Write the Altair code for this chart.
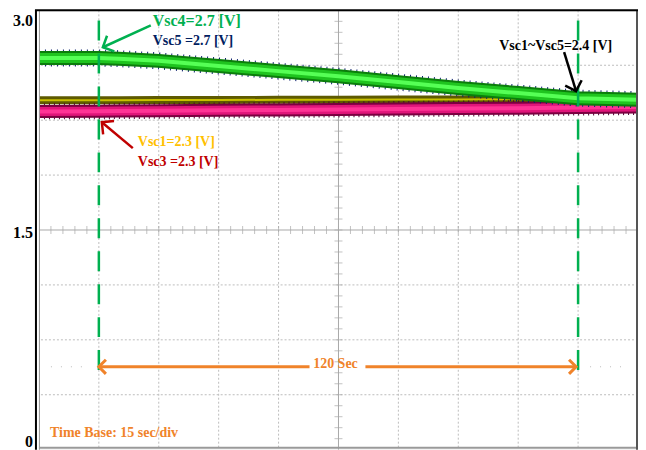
import altair as alt
import pandas as pd

# ---- trace data (time in s, voltage in V) ----
time_s = [0, 15, 20, 30, 45, 60, 75, 90, 105, 120, 135, 150]
vsc4_5 = [2.675, 2.675, 2.67, 2.655, 2.62, 2.585, 2.55, 2.51, 2.47, 2.435, 2.40, 2.39]
vsc1_2 = [2.386, 2.386, 2.386, 2.387, 2.388, 2.389, 2.39, 2.391, 2.392, 2.393, 2.394, 2.395]
vsc3 = [2.31, 2.311, 2.312, 2.314, 2.317, 2.32, 2.323, 2.326, 2.329, 2.332, 2.336, 2.34]

# ---- graticule ----
grid_t = [15, 30, 45, 60, 90, 105, 120, 135]
grid_v = [0.375, 0.75, 1.125, 1.875, 2.25, 2.625]
minor_t = [i * 3 for i in range(1, 50)]
minor_v = [round(i * 0.075, 3) for i in range(1, 40)]

# ---- y tick labels ----
ytick_text = ["3.0", "1.5", "0"]
ytick_v = [2.93, 1.48, 0.055]

# ---- annotations ----
marker_t = [15, 135]
marker_v = [2.93, 0.525]

labels_text = ["Vsc4=2.7 [V]", "Vsc5 =2.7 [V]", "Vsc1~Vsc5=2.4 [V]", "Vsc1=2.3 [V]", "Vsc3 =2.3 [V]", "Time Base: 15 sec/div"]
labels_t = [28.5, 28.5, 115.25, 24.75, 24.75, 2.75]
labels_v = [2.93, 2.79, 2.755, 2.10, 1.964, 0.116]
labels_size = [16, 14, 14, 14, 14, 14]
labels_color = ["#00B050", "#002060", "#000000", "#FFC000", "#C00000", "#F0832A"]

arrow_color = ["#00B050", "#C00000", "#000000"]
arrow_t0 = [28.0, 23.5, 131.5]
arrow_v0 = [2.898, 2.059, 2.714]
arrow_t1 = [16.0, 15.75, 134.5]
arrow_v1 = [2.748, 2.236, 2.448]
arrow_angle = [155, 219, 72]

span_t0 = [15.0, 81.75]
span_t1 = [67.75, 134.5]
span_v = 0.566
span_heads_t = [15.0, 134.5]
span_heads_angle = [180, 0]
span_label = "120 Sec"
span_label_t = 74.25
span_label_v = 0.585

FONT = "Liberation Serif"
xs = alt.Scale(domain=[0, 150], nice=False, zero=False)
ys = alt.Scale(domain=[0, 3], nice=False, zero=False)
X = lambda f: alt.X(f, scale=xs, axis=None)
Y = lambda f: alt.Y(f, scale=ys, axis=None)

traces = pd.DataFrame({"t": time_s, "v45": vsc4_5, "v12": vsc1_2, "v3": vsc3})


def tline(col, color, width, dash=None):
    kw = dict(color=color, strokeWidth=width, strokeCap="butt", clip=True)
    if dash:
        kw["strokeDash"] = dash
    return alt.Chart(traces).mark_line(**kw).encode(x=X("t:Q"), y=Y(f"{col}:Q"))


# grid
gx = alt.Chart(pd.DataFrame({"t": grid_t})).mark_rule(
    color="#bdbdbd", strokeDash=[2, 2], strokeWidth=1).encode(x=X("t:Q"))
gy = alt.Chart(pd.DataFrame({"v": grid_v})).mark_rule(
    color="#bdbdbd", strokeDash=[2, 2], strokeWidth=1).encode(y=Y("v:Q"))
center_df = pd.DataFrame({"t": [75], "v": [1.5]})
cx = alt.Chart(center_df).mark_rule(color="#a8a8a8", strokeWidth=1).encode(x=X("t:Q"))
cy = alt.Chart(center_df).mark_rule(color="#a8a8a8", strokeWidth=1).encode(y=Y("v:Q"))
mt = alt.Chart(pd.DataFrame({"t": minor_t, "v": [1.5] * len(minor_t)})).mark_tick(
    orient="vertical", size=8, thickness=1, color="#a8a8a8").encode(x=X("t:Q"), y=Y("v:Q"))
mv = alt.Chart(pd.DataFrame({"v": minor_v, "t": [75] * len(minor_v)})).mark_tick(
    orient="horizontal", size=8, thickness=1, color="#a8a8a8").encode(x=X("t:Q"), y=Y("v:Q"))

# frame
one = pd.DataFrame({"a": [0]})
frame_top = alt.Chart(one).mark_rule(color="#000", strokeWidth=2).encode(
    x=alt.value(-4), x2=alt.value(600), y=alt.value(0))
frame_left = alt.Chart(one).mark_rule(color="#000", strokeWidth=2).encode(
    x=alt.value(-3), y=alt.value(0), y2=alt.value(440))
frame_left_in = alt.Chart(one).mark_rule(color="#9a9a9a", strokeWidth=1).encode(
    x=alt.value(0.5), y=alt.value(0), y2=alt.value(440))
frame_right = alt.Chart(one).mark_rule(color="#555", strokeWidth=2).encode(
    x=alt.value(599), y=alt.value(0), y2=alt.value(440))
frame_bottom = alt.Chart(one).mark_rule(color="#9a9a9a", strokeWidth=2).encode(
    x=alt.value(0), x2=alt.value(600), y=alt.value(438))

# y tick labels
ylab = alt.Chart(pd.DataFrame({"txt": ytick_text, "v": ytick_v})).mark_text(
    font=FONT, fontWeight="bold", fontSize=16, color="#000", align="right", baseline="middle").encode(
    x=alt.value(-6), y=Y("v:Q"), text="txt:N")

# traces
yellow = [tline("v12", "#5e5a00", 8), tline("v12", "#c8c000", 2)]
pink = [tline("v3", "#4a0030", 16, [1, 4]), tline("v3", "#7a0040", 13),
        tline("v3", "#e0157a", 9), tline("v3", "#ff3396", 4)]
green = [tline("v45", "#0d1f6e", 17, [1, 5]), tline("v45", "#0b7d0b", 14),
         tline("v45", "#1fc41f", 10), tline("v45", "#55ff55", 4)]

# green dashed markers
mk_df = pd.DataFrame({"t": marker_t, "v0": [marker_v[0]] * 2, "v1": [marker_v[1]] * 2})
markers = alt.Chart(mk_df).mark_rule(color="#00B050", strokeWidth=2.5, strokeDash=[20, 13]).encode(
    x=X("t:Q"), y=Y("v0:Q"), y2="v1:Q")

# labels
lab_df = pd.DataFrame({"txt": labels_text, "t": labels_t, "v": labels_v,
                       "size": labels_size, "col": labels_color})
labels = alt.Chart(lab_df).mark_text(font=FONT, fontWeight="bold", align="left", baseline="middle").encode(
    x=X("t:Q"), y=Y("v:Q"), text="txt:N",
    size=alt.Size("size:Q", scale=None, legend=None),
    color=alt.Color("col:N", scale=None, legend=None))

# arrows
ar_df = pd.DataFrame({"t0": arrow_t0, "v0": arrow_v0, "t1": arrow_t1, "v1": arrow_v1,
                      "col": arrow_color, "ang": arrow_angle})
shafts = alt.Chart(ar_df).mark_rule(strokeWidth=2.5).encode(
    x=X("t0:Q"), y=Y("v0:Q"), x2="t1:Q", y2="v1:Q",
    color=alt.Color("col:N", scale=None, legend=None))
heads = alt.Chart(ar_df).mark_point(shape="M-1,-1L0,0L-1,1", size=300, filled=False,
                                    strokeWidth=2.5, opacity=1).encode(
    x=X("t1:Q"), y=Y("v1:Q"), angle=alt.Angle("ang:Q", scale=None),
    color=alt.Color("col:N", scale=None, legend=None))

# 120 s span
span_df = pd.DataFrame({"t0": span_t0, "t1": span_t1, "v": [span_v] * 2})
span = alt.Chart(span_df).mark_rule(color="#F0832A", strokeWidth=3).encode(
    x=X("t0:Q"), x2="t1:Q", y=Y("v:Q"))
sh_df = pd.DataFrame({"t": span_heads_t, "v": [span_v] * 2, "ang": span_heads_angle})
span_heads = alt.Chart(sh_df).mark_point(shape="M-1,-1L0,0L-1,1", size=200, filled=False,
                                         strokeWidth=3, color="#F0832A", opacity=1).encode(
    x=X("t:Q"), y=Y("v:Q"), angle=alt.Angle("ang:Q", scale=None))
span_text = alt.Chart(pd.DataFrame({"txt": [span_label], "t": [span_label_t], "v": [span_label_v]})).mark_text(
    font=FONT, fontWeight="bold", fontSize=14, color="#F0832A", align="center", baseline="middle").encode(
    x=X("t:Q"), y=Y("v:Q"), text="txt:N")
dots_df = pd.DataFrame({"t0": [3, 138], "t1": [13, 148], "v": [span_v] * 2})
dots = alt.Chart(dots_df).mark_rule(color="#bbbbbb", strokeWidth=1, strokeDash=[1, 9]).encode(
    x=X("t0:Q"), x2="t1:Q", y=Y("v:Q"))

chart = alt.layer(
    gx, gy, cx, cy, mt, mv,
    *yellow, *pink, *green,
    markers, dots, span, span_heads, span_text, shafts, heads, labels,
    frame_left_in, frame_bottom, frame_right, frame_top, frame_left, ylab,
).properties(
    width=600, height=440,
    autosize=alt.AutoSizeParams(type="none"),
    padding={"left": 31, "top": 2, "right": 0, "bottom": 0},
).configure_view(stroke=None).configure(background="white")

chart.save("out.html", embed_options={"renderer": "svg", "actions": False})
